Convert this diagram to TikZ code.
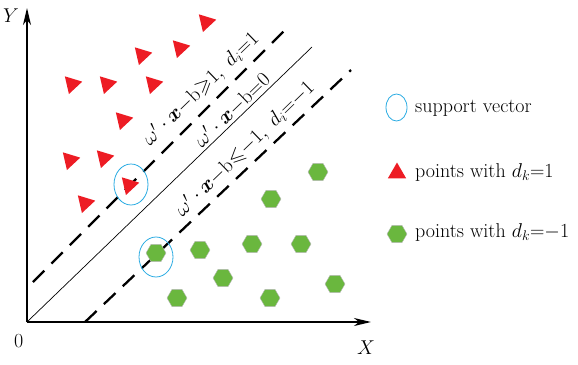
\RequirePackage{fix-cm}
\documentclass[tikz,border=0pt]{standalone}
\usepackage{amsmath,amssymb}
\usetikzlibrary{arrows.meta,shapes.geometric}
\definecolor{trired}{RGB}{237,28,36}
\definecolor{hexgreen}{RGB}{106,183,62}
\definecolor{svblue}{RGB}{41,171,226}
\begin{document}
\begin{tikzpicture}[x=1pt,y=-1pt,
  tri/.style={regular polygon, regular polygon sides=3, fill=trired, inner sep=0pt, minimum size=21pt, rotate=-77},
  legtri/.style={regular polygon, regular polygon sides=3, fill=trired, inner sep=0pt, minimum size=21pt},
  hexa/.style={regular polygon, regular polygon sides=6, fill=hexgreen, draw=gray!55, line width=0.4pt, inner sep=0pt, minimum size=20pt},
  svell/.style={ellipse, draw=svblue, line width=0.8pt, inner sep=0pt},
  axis/.style={line width=1.8pt, -{Stealth[length=17pt,width=8pt,inset=5pt]}},
  margin/.style={line width=2.3pt, dash pattern=on 16pt off 10pt},
  lbl/.style={font=\fontsize{20.5}{24}\selectfont, inner sep=0pt, rotate=44},
  txt/.style={font=\fontsize{20}{24}\selectfont, inner sep=0pt, anchor=base west}
]
\useasboundingbox (0,0) rectangle (578,364);
% axes
\coordinate (O) at (27,322);
\coordinate (Ytip) at (27,8);
\coordinate (Xtip) at (371,322);
\draw[axis] (O) -- (Ytip);
\draw[axis] (O) -- (Xtip);
\node[txt] (ylab) at (3,22) {$Y$};
\node[txt] (xlab) at (357,354) {$X$};
\node[txt] (zero) at (14,347) {0};
% separating lines
\coordinate (s1) at (27,322);
\coordinate (s2) at (312,47);
\draw[line width=0.7pt] (s1) -- (s2);
\coordinate (u1) at (33,282);
\coordinate (u2) at (284,31);
\draw[margin] (u1) -- (u2);
\coordinate (l1) at (85,322);
\coordinate (l2) at (351,70);
\draw[margin] (l1) -- (l2);
% labels
\node[lbl] (lab1) at (201,89) {$\omega'\cdot\boldsymbol{x}{-}\mathrm{b}{\geqslant}1,\ d_i{=}1$};
\node[lbl] (lab2) at (232,110) {$\omega'\cdot\boldsymbol{x}{-}\mathrm{b}{=}0$};
\node[lbl] (lab3) at (245,149) {$\omega'\cdot\boldsymbol{x}{-}\mathrm{b}{\leqslant}{-}1,\ d_i{=}{-}1$};
% triangles
\node[tri] (t1) at (206,22) {};
\node[tri] (t2) at (180,48) {};
\node[tri] (t3) at (142,55) {};
\node[tri] (t4) at (72,84) {};
\node[tri] (t5) at (107,84) {};
\node[tri] (t6) at (153,84) {};
\node[tri] (t7) at (123,120) {};
\node[tri] (t8) at (70,160) {};
\node[tri] (t9) at (104,158) {};
\node[tri] (t10) at (129,185) {};
\node[tri] (t11) at (85,203) {};
% hexagons
\node[hexa] (h1) at (318,172) {};
\node[hexa] (h2) at (271,199) {};
\node[hexa] (h3) at (252,244) {};
\node[hexa] (h4) at (301,244) {};
\node[hexa] (h5) at (200,250) {};
\node[hexa] (h6) at (156,253) {};
\node[hexa] (h7) at (223,278) {};
\node[hexa] (h8) at (335,284) {};
\node[hexa] (h9) at (270,298) {};
\node[hexa] (h10) at (177,298) {};
% support vectors
\node[svell, minimum width=34pt, minimum height=41pt] (sv1) at (131,184.5) {};
\node[svell, minimum width=34pt, minimum height=40pt] (sv2) at (156,257) {};
% legend
\node[svell, minimum width=21pt, minimum height=27pt] (lsv) at (396.5,107.5) {};
\node[txt] (lsvt) at (415,112) {support vector};
\node[legtri] (ltri) at (397,173) {};
\node[txt] (ltrit) at (415,177) {points with $d_k{=}1$};
\node[hexa] (lhex) at (397,234) {};
\node[txt] (lhext) at (415,237) {points with $d_k{=}{-}1$};
\end{tikzpicture}
\end{document}
